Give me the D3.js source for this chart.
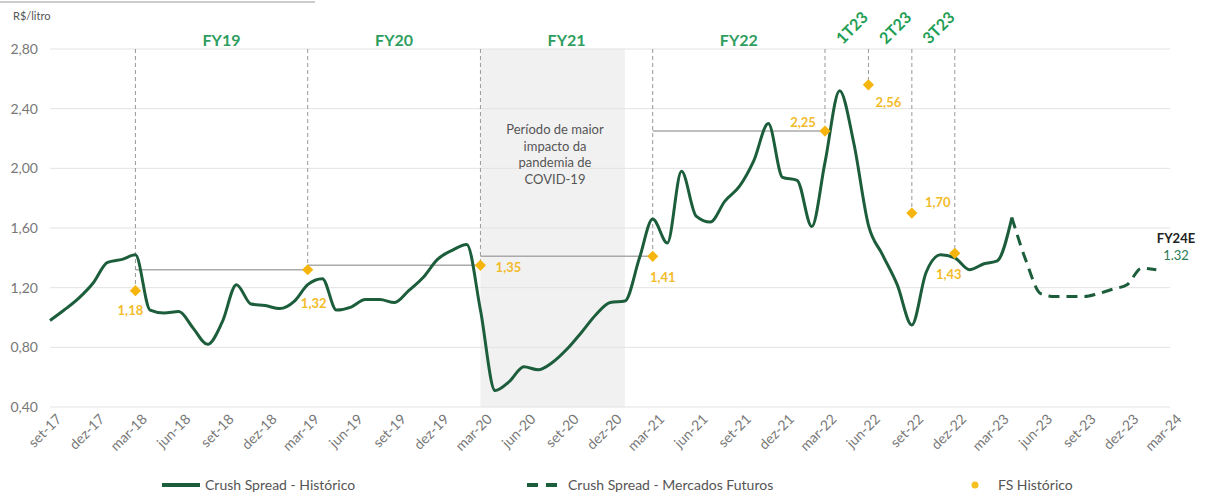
<!DOCTYPE html>
<html>
<head>
<meta charset="utf-8">
<title>Crush Spread</title>
<style>
body { margin: 0; background: #fff; }
svg text { font-family: Lato, "Open Sans", sans-serif; }
.grid line { stroke: #e3e3e3; stroke-width: 1; }
.axis path, .axis line { display: none; }
.axis text { fill: #777; font-size: 14px; }
</style>
</head>
<body>
<script src="https://cdn.jsdelivr.net/npm/d3@7"></script>
<script>
// dados mensais (R$/litro)
var histMonths = ["2017-09","2017-10","2017-11","2017-12","2018-01","2018-02","2018-03","2018-04","2018-05","2018-06","2018-07","2018-08",
  "2018-09","2018-10","2018-11","2018-12","2019-01","2019-02","2019-03","2019-04","2019-05","2019-06","2019-07","2019-08",
  "2019-09","2019-10","2019-11","2019-12","2020-01","2020-02","2020-03","2020-04","2020-05","2020-06","2020-07","2020-08",
  "2020-09","2020-10","2020-11","2020-12","2021-01","2021-02","2021-03","2021-04","2021-05","2021-06","2021-07","2021-08",
  "2021-09","2021-10","2021-11","2021-12","2022-01","2022-02","2022-03","2022-04","2022-05","2022-06","2022-07","2022-08",
  "2022-09","2022-10","2022-11","2022-12","2023-01","2023-02","2023-03","2023-04"];
var histValues = [0.98,1.05,1.13,1.23,1.37,1.39,1.42,1.05,1.03,1.04,0.93,0.82,
  0.97,1.22,1.09,1.08,1.06,1.11,1.22,1.26,1.05,1.07,1.12,1.12,
  1.10,1.18,1.27,1.39,1.45,1.49,1.05,0.51,0.57,0.67,0.65,0.70,
  0.79,0.90,1.02,1.10,1.11,1.40,1.66,1.50,1.98,1.68,1.64,1.78,
  1.88,2.05,2.30,1.94,1.92,1.61,2.04,2.52,2.17,1.62,1.42,1.22,
  0.95,1.30,1.42,1.40,1.32,1.36,1.38,1.67];

var futMonths = ["2023-04","2023-05","2023-06","2023-07","2023-08","2023-09","2023-10","2023-11","2023-12","2024-01","2024-02"];
var futValues = [1.67,1.38,1.16,1.14,1.14,1.14,1.16,1.19,1.22,1.33,1.32];

// FS histórico
var fsMonths = ["2018-03","2019-03","2020-03","2021-03","2022-03","2022-06","2022-09","2022-12"];
var fsValues = [1.18,1.32,1.35,1.41,2.25,2.56,1.70,1.43];
var fsLabels = ["1,18","1,32","1,35","1,41","2,25","2,56","1,70","1,43"];

var fyNames = ["FY19","FY20","FY21","FY22"];
var qNames = ["1T23","2T23","3T23"];

var tickMonths = ["2017-09","2017-12","2018-03","2018-06","2018-09","2018-12","2019-03","2019-06","2019-09","2019-12",
  "2020-03","2020-06","2020-09","2020-12","2021-03","2021-06","2021-09","2021-12","2022-03","2022-06","2022-09","2022-12",
  "2023-03","2023-06","2023-09","2023-12","2024-03"];
var tickLabels = ["set-17","dez-17","mar-18","jun-18","set-18","dez-18","mar-19","jun-19","set-19","dez-19",
  "mar-20","jun-20","set-20","dez-20","mar-21","jun-21","set-21","dez-21","mar-22","jun-22","set-22","dez-22",
  "mar-23","jun-23","set-23","dez-23","mar-24"];
var yTicks = [0.4, 0.8, 1.2, 1.6, 2.0, 2.4, 2.8];

var pandemia = ["2020-03", "2021-01"];

var parse = d3.timeParse("%Y-%m");
var width = 1209, height = 498;

var svg = d3.select("body").append("svg")
  .attr("width", width)
  .attr("height", height);

var x = d3.scaleTime()
  .domain([parse("2017-09"), parse("2024-03")])
  .range([50, 1170]);
var y = d3.scaleLinear()
  .domain([0.4, 2.8])
  .range([407, 49]);

// linha do topo e unidade
svg.append("line")
  .attr("x1", 0).attr("x2", 315).attr("y1", 2).attr("y2", 2)
  .attr("stroke", "#999").attr("stroke-width", 1);
svg.append("text")
  .attr("x", 13).attr("y", 20)
  .attr("font-size", 11).attr("fill", "#555")
  .text("R$/litro");

// area cinza da pandemia
svg.append("rect")
  .attr("x", x(parse(pandemia[0])))
  .attr("y", y(2.8))
  .attr("width", x(parse(pandemia[1])) - x(parse(pandemia[0])))
  .attr("height", y(0.4) - y(2.8))
  .attr("fill", "#f1f1f1");

// grade
svg.append("g").attr("class", "grid")
  .selectAll("line")
  .data(yTicks)
  .enter().append("line")
  .attr("x1", 50).attr("x2", 1170)
  .attr("y1", function(d){ return y(d); })
  .attr("y2", function(d){ return y(d); });

// eixo y
var axisY = d3.axisLeft(y).tickValues(yTicks).tickSize(0).tickPadding(0)
  .tickFormat(function(d){ return d3.format(".2f")(d).replace(".", ","); });
svg.append("g").attr("class", "axis")
  .attr("transform", "translate(38,0)")
  .call(axisY);

// eixo x
var axisX = d3.axisBottom(x)
  .tickValues(tickMonths.map(parse))
  .tickSize(0)
  .tickFormat(function(d, i){ return tickLabels[i]; });
svg.append("g").attr("class", "axis")
  .attr("transform", "translate(0,414)")
  .call(axisX)
  .selectAll("text")
  .attr("text-anchor", "end")
  .attr("dy", "0.7em")
  .attr("dx", "0.3em")
  .attr("transform", "rotate(-45)");

// texto pandemia
var covidLines = ["Período de maior", "impacto da", "pandemia de", "COVID-19"];
svg.append("text")
  .attr("x", 555).attr("y", 134)
  .attr("text-anchor", "middle")
  .attr("font-size", 13).attr("fill", "#555")
  .selectAll("tspan")
  .data(covidLines)
  .enter().append("tspan")
  .attr("x", 555)
  .attr("dy", function(d, i){ return i == 0 ? 0 : 16.5; })
  .text(function(d){ return d; });

// linhas tracejadas verticais ate os pontos FS
svg.selectAll(".vline")
  .data(fsMonths)
  .enter().append("line")
  .attr("class", "vline")
  .attr("x1", function(d){ return x(parse(d)); })
  .attr("x2", function(d){ return x(parse(d)); })
  .attr("y1", y(2.8))
  .attr("y2", function(d, i){ return y(fsValues[i]); })
  .attr("stroke", "#999")
  .attr("stroke-width", 1)
  .attr("stroke-dasharray", "4,3");

// linhas horizontais de cada FY (nivel do FS seguinte)
for (let i = 1; i <= 4; i++) {
  svg.append("line")
    .attr("x1", x(parse(fsMonths[i-1])))
    .attr("x2", x(parse(fsMonths[i])))
    .attr("y1", y(fsValues[i]))
    .attr("y2", y(fsValues[i]))
    .attr("stroke", "#aaa")
    .attr("stroke-width", 1.5);
}

// rotulos FY
svg.selectAll(".fy")
  .data(fyNames)
  .enter().append("text")
  .attr("class", "fy")
  .attr("x", function(d, i){ return (x(parse(fsMonths[i])) + x(parse(fsMonths[i+1]))) / 2; })
  .attr("y", 46)
  .attr("text-anchor", "middle")
  .attr("font-size", 16).attr("font-weight", "bold")
  .attr("fill", "#2e9e5f")
  .text(function(d){ return d; });

svg.selectAll(".q")
  .data(qNames)
  .enter().append("text")
  .attr("class", "q")
  .attr("transform", function(d, i){
    var cx = (x(parse(fsMonths[i+4])) + x(parse(fsMonths[i+5]))) / 2;
    return "translate(" + (cx - 4) + ",45) rotate(-45)";
  })
  .attr("font-size", 16).attr("font-weight", "bold")
  .attr("fill", "#1f9e55")
  .text(function(d){ return d; });

// curvas
var line = d3.line()
  .x(function(d){ return x(parse(d[0])); })
  .y(function(d){ return y(d[1]); })
  .curve(d3.curveMonotoneX);

svg.append("path")
  .datum(histMonths.map(function(m, i){ return [m, histValues[i]]; }))
  .attr("d", line)
  .attr("fill", "none")
  .attr("stroke", "#1c5e3c")
  .attr("stroke-width", 3);

svg.append("path")
  .datum(futMonths.map(function(m, i){ return [m, futValues[i]]; }))
  .attr("d", line)
  .attr("fill", "none")
  .attr("stroke", "#1c5e3c")
  .attr("stroke-width", 3)
  .attr("stroke-dasharray", "11,7");

// diamantes FS
svg.selectAll(".fs")
  .data(fsMonths)
  .enter().append("path")
  .attr("class", "fs")
  .attr("d", d3.symbol().type(d3.symbolDiamond2).size(80))
  .attr("transform", function(d, i){ return "translate(" + x(parse(d)) + "," + y(fsValues[i]) + ")"; })
  .attr("fill", "#f5b50c");

var fsOffsets = [[-5, 20], [6, 34], [28, 2], [10, 21], [-22, -9], [20, 18], [26, -11], [-6, 21]];
svg.selectAll(".fsl")
  .data(fsLabels)
  .enter().append("text")
  .attr("class", "fsl")
  .attr("x", function(d, i){ return x(parse(fsMonths[i])) + fsOffsets[i][0]; })
  .attr("y", function(d, i){ return y(fsValues[i]) + fsOffsets[i][1]; })
  .attr("dy", "0.35em")
  .attr("text-anchor", "middle")
  .attr("font-size", 13).attr("font-weight", "bold")
  .attr("fill", "#f2bb2a")
  .text(function(d){ return d; });

// FY24E
svg.append("text")
  .attr("x", 1176).attr("y", 243)
  .attr("text-anchor", "middle")
  .attr("font-size", 13).attr("font-weight", "bold").attr("fill", "#222")
  .text("FY24E");
svg.append("text")
  .attr("x", 1176).attr("y", 260)
  .attr("text-anchor", "middle")
  .attr("font-size", 13).attr("fill", "#2b7a55")
  .text("1.32");

// legenda
var leg = svg.append("g").attr("font-size", 14).attr("fill", "#555");
leg.append("line").attr("x1", 162).attr("x2", 200).attr("y1", 485).attr("y2", 485)
  .attr("stroke", "#1c5e3c").attr("stroke-width", 4);
leg.append("text").attr("x", 205).attr("y", 490).text("Crush Spread - Histórico");
leg.append("line").attr("x1", 527).attr("x2", 557).attr("y1", 485).attr("y2", 485)
  .attr("stroke", "#1c5e3c").attr("stroke-width", 4).attr("stroke-dasharray", "11,8");
leg.append("text").attr("x", 568).attr("y", 490).text("Crush Spread - Mercados Futuros");
leg.append("circle").attr("cx", 975).attr("cy", 485).attr("r", 3.5).attr("fill", "#f5c020");
leg.append("text").attr("x", 998).attr("y", 490).text("FS Histórico");
</script>
</body>
</html>
